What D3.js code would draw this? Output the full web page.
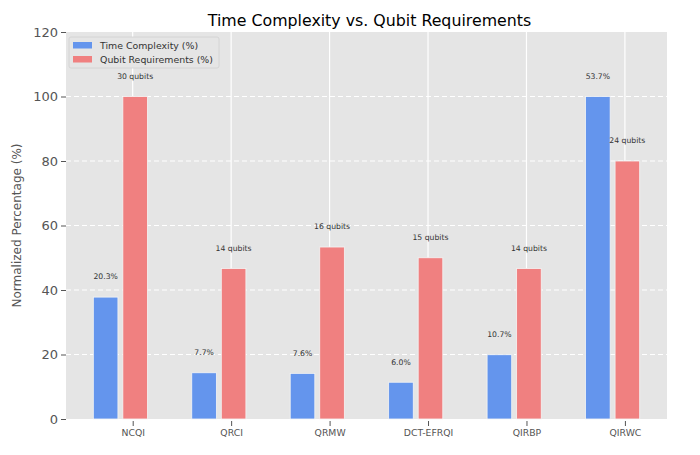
<!DOCTYPE html>
<html><head><meta charset="utf-8">
<script src="https://cdn.jsdelivr.net/npm/d3@7"></script>
<style>body{margin:0;background:#fff}svg{display:block;font-family:"DejaVu Sans",sans-serif}</style>
</head><body><svg id="c" width="700" height="455"></svg>
<script>
const categories = ["NCQI","QRCI","QRMW","DCT-EFRQI","QIRBP","QIRWC"];
const timeRaw = [20.3, 7.7, 7.6, 6.0, 10.7, 53.7];
const qubitsRaw = [30, 14, 16, 15, 14, 24];
const timeNorm = [37.8, 14.34, 14.15, 11.4, 19.93, 100];
const qubitNorm = [100, 46.67, 53.33, 50, 46.67, 80];
const yTicks = [0, 20, 40, 60, 80, 100, 120];
const seriesNames = ["Time Complexity (%)", "Qubit Requirements (%)"];
const colors = ["#6495ED", "#F08080"];

const svg = d3.select("#c");
const L = 66, R = 667, T = 32, B = 419;
const x = d3.scaleLinear().domain([-0.6775, 5.4275]).range([L, R]);
const y = d3.scaleLinear().domain([0, 120]).range([B, T]);
const bw = 0.25;
const offs = [-0.4, -0.1];

svg.append("rect").attr("x", L).attr("y", T).attr("width", R - L).attr("height", B - T).attr("fill", "#E5E5E5");

// grid
svg.append("g").selectAll("line").data(yTicks.filter(d => d > 0 && d < 120)).join("line")
  .attr("x1", L).attr("x2", R).attr("y1", d => y(d)).attr("y2", d => y(d))
  .attr("stroke", "#fff").attr("stroke-width", 1).attr("stroke-dasharray", "5,3");
svg.append("g").selectAll("line").data(categories).join("line")
  .attr("x1", (d, i) => x(i)).attr("x2", (d, i) => x(i)).attr("y1", T).attr("y2", B)
  .attr("stroke", "#fff").attr("stroke-width", 1.2);

// bars
const series = [timeNorm, qubitNorm];
series.forEach((vals, s) => {
  svg.append("g").selectAll("rect").data(vals).join("rect")
    .attr("x", (d, i) => x(i + offs[s]))
    .attr("width", (d, i) => x(i + offs[s] + bw) - x(i + offs[s]))
    .attr("y", d => y(d)).attr("height", d => B - y(d))
    .attr("fill", colors[s]).attr("stroke", "#f4f4f4").attr("stroke-width", 0.8);
});

// value labels
svg.append("g").selectAll("text").data(timeNorm).join("text")
  .attr("x", (d, i) => x(i + offs[0] + bw / 2)).attr("y", d => y(d + 5) - 1.5)
  .attr("text-anchor", "middle").attr("font-size", 7.7).attr("fill", "#333")
  .text((d, i) => timeRaw[i].toFixed(1) + "%");
svg.append("g").selectAll("text").data(qubitNorm).join("text")
  .attr("x", (d, i) => x(i + offs[1] + bw / 2)).attr("y", d => y(d + 5) - 1.5)
  .attr("text-anchor", "middle").attr("font-size", 7.7).attr("fill", "#333")
  .text((d, i) => qubitsRaw[i] + " qubits");

// axes
const ya = svg.append("g").attr("transform", `translate(${L},0)`)
  .call(d3.axisLeft(y).tickValues(yTicks).tickSize(5).tickPadding(3));
ya.select(".domain").remove();
ya.selectAll("line").attr("stroke", "#555");
ya.selectAll("text").attr("font-size", 13).attr("fill", "#555").attr("font-family", "DejaVu Sans");

const xa = svg.append("g").attr("transform", `translate(0,${B})`)
  .call(d3.axisBottom(x).tickValues(d3.range(categories.length)).tickFormat(i => categories[i]).tickSize(5).tickPadding(5));
xa.select(".domain").remove();
xa.selectAll("line").attr("stroke", "#555").attr("transform", "translate(0,2)");
xa.selectAll("text").attr("font-size", 9.3).attr("fill", "#555").attr("font-family", "DejaVu Sans");

// y label
svg.append("text").attr("transform", `translate(21,${(T + B) / 2}) rotate(-90)`)
  .attr("text-anchor", "middle").attr("font-size", 12).attr("fill", "#555").text("Normalized Percentage (%)");

// title
svg.append("text").attr("x", (L + R) / 2 + 3).attr("y", 26).attr("text-anchor", "middle")
  .attr("font-size", 15.8).attr("fill", "#000").text("Time Complexity vs. Qubit Requirements");

// legend
const lg = svg.append("g").attr("transform", `translate(69,37)`);
lg.append("rect").attr("width", 150).attr("height", 31).attr("rx", 2)
  .attr("fill", "#E5E5E5").attr("stroke", "#d0d0d0").attr("stroke-width", 0.8);
seriesNames.forEach((n, k) => {
  lg.append("rect").attr("x", 4).attr("y", 5 + k * 14).attr("width", 19).attr("height", 6.5).attr("fill", colors[k]);
  lg.append("text").attr("x", 31).attr("y", 11.5 + k * 14).attr("font-size", 9.4).attr("fill", "#333").text(n);
});
</script></body></html>
